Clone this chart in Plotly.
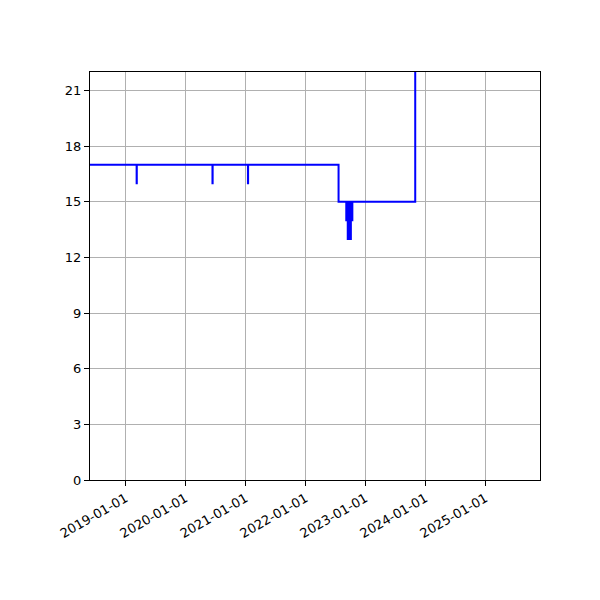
import plotly.graph_objects as go

# step series (daily changes only)
dates = [
    "2018-05-01", "2019-03-09", "2019-03-10", "2020-06-13", "2020-06-14",
    "2021-01-15", "2021-01-16", "2022-07-21",
    "2022-09-06", "2022-09-07", "2022-09-09", "2022-09-10", "2022-09-12", "2022-09-13",
    "2022-09-15", "2022-09-16", "2022-09-18", "2022-09-19", "2022-09-21", "2022-09-22",
    "2022-09-24", "2022-09-25", "2022-09-27", "2022-09-28", "2022-09-30", "2022-10-01",
    "2022-10-03", "2022-10-04", "2022-10-06", "2022-10-07", "2022-10-09", "2022-10-10",
    "2022-10-12", "2022-10-13",
    "2023-10-30", "2023-10-31",
]
values = [
    17, 16, 17, 16, 17,
    16, 17, 15,
    14, 15, 14, 15, 14, 15,
    13, 15, 13, 15, 13, 15,
    14, 15, 13, 15, 13, 15,
    13, 15, 14, 15, 14, 15,
    14, 15,
    15, 30,
]
x_ticks = ["2019-01-01", "2020-01-01", "2021-01-01", "2022-01-01",
           "2023-01-01", "2024-01-01", "2025-01-01"]
y_ticks = [0, 3, 6, 9, 12, 15, 18, 21]


def main():
    fig = go.Figure(go.Scatter(x=dates, y=values, mode="lines",
                               line=dict(color="#0000ff", width=2, shape="hv")))
    # page body adds 8px, so margins are shifted to land the axes where the reference has them
    fig.update_layout(
        width=600, height=600,
        margin=dict(l=82, r=68, t=64, b=128),
        plot_bgcolor="white", paper_bgcolor="white",
        font=dict(family="DejaVu Sans", size=13, color="black"),
        showlegend=False,
    )
    fig.update_xaxes(range=["2018-05-29", "2025-11-29"], tickvals=x_ticks, ticktext=x_ticks,
                     tickangle=-30, showgrid=True, gridcolor="#b0b0b0", gridwidth=1,
                     showline=True, linecolor="black", linewidth=1, mirror=True,
                     ticks="outside", ticklen=5, tickcolor="black", zeroline=False)
    fig.update_yaxes(range=[0, 22], tickvals=y_ticks,
                     showgrid=True, gridcolor="#b0b0b0", gridwidth=1,
                     showline=True, linecolor="black", linewidth=1, mirror=True,
                     ticks="outside", ticklen=5, tickcolor="black", zeroline=False)
    fig.write_html("out.html")


if __name__ == '__main__':
    main()
